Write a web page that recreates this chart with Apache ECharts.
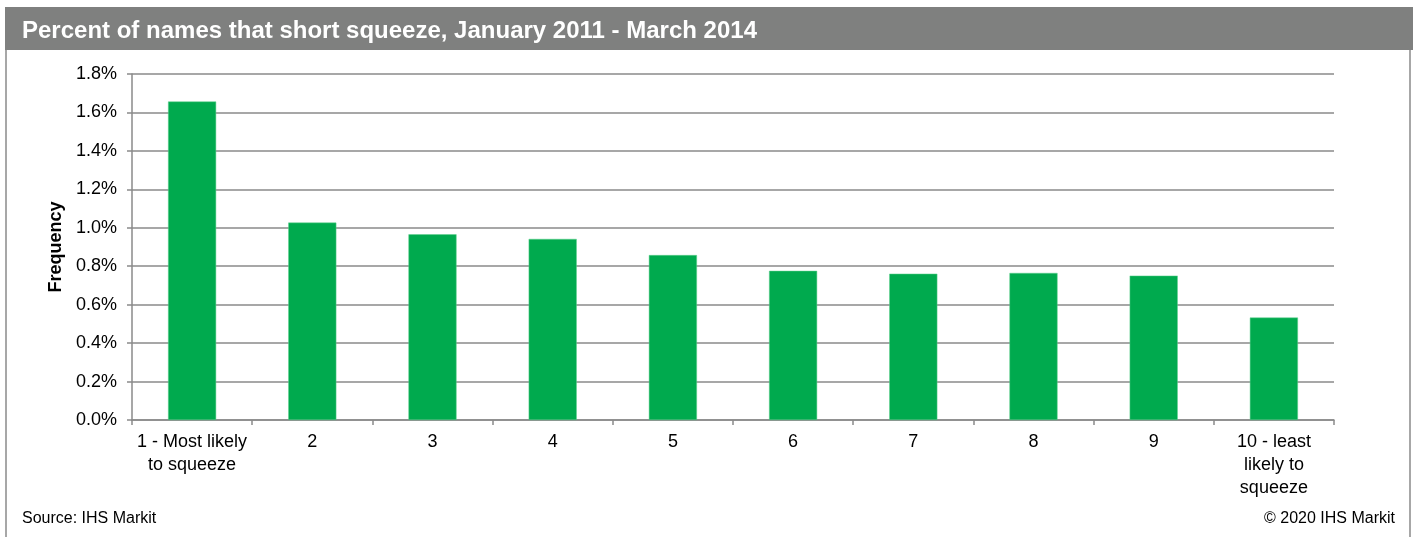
<!DOCTYPE html>
<html>
<head>
<meta charset="utf-8">
<script src="https://cdn.jsdelivr.net/npm/echarts@6/dist/echarts.min.js"></script>
<style>
  html, body { margin: 0; padding: 0; background: #fff; }
  #main { width: 1414px; height: 537px; }
</style>
</head>
<body>
<div id="main"></div>
<script>
// deciles of squeeze likelihood
var categories = ['1 - Most likely\nto squeeze', '2', '3', '4', '5', '6', '7', '8', '9', '10 - least\nlikely to\nsqueeze'];
// frequency, in percent
var frequency = [1.657, 1.027, 0.966, 0.942, 0.858, 0.776, 0.761, 0.765, 0.751, 0.533];
var titleText = 'Percent of names that short squeeze, January 2011 - March 2014';

var chart = echarts.init(document.getElementById('main'));
var font = "'Liberation Sans', Arial, sans-serif";
var lineGrey = '#8a8a8a';

var option = {
    animation: false,
    textStyle: { fontFamily: font },
    title: {
        text: titleText,
        left: 22,
        top: 19,
        padding: 0,
        textStyle: { color: '#fff', fontSize: 24, fontWeight: 'bold', fontFamily: font }
    },
    graphic: [
        // header bar
        { type: 'rect', z: -1, shape: { x: 5, y: 7, width: 1408, height: 43 }, style: { fill: '#7f807f' } },
        // frame sides
        { type: 'line', shape: { x1: 6, y1: 50, x2: 6, y2: 537 }, style: { stroke: lineGrey, lineWidth: 1.5 } },
        { type: 'line', shape: { x1: 1410, y1: 50, x2: 1410, y2: 537 }, style: { stroke: lineGrey, lineWidth: 1.5 } },
        { type: 'text', left: 22, top: 511, style: { text: 'Source: IHS Markit', fill: '#000', fontSize: 16, fontFamily: font } },
        { type: 'text', right: 19, top: 511, style: { text: '\u00a9 2020 IHS Markit', fill: '#000', fontSize: 16, fontFamily: font } }
    ],
    grid: { left: 132, right: 80, top: 74, bottom: 117 },
    xAxis: {
        type: 'category',
        data: categories,
        axisLine: { lineStyle: { color: lineGrey, width: 1.5 } },
        axisTick: { show: true, alignWithLabel: false, length: 5, lineStyle: { color: lineGrey, width: 1.5 } },
        axisLabel: { interval: 0, color: '#000', fontSize: 18, lineHeight: 23, margin: 11 }
    },
    yAxis: {
        type: 'value',
        min: 0,
        max: 1.8,
        interval: 0.2,
        name: 'Frequency',
        nameLocation: 'middle',
        nameGap: 66,
        nameRotate: 90,
        nameTextStyle: { color: '#000', fontSize: 18, fontWeight: 'bold' },
        axisLine: { show: true, lineStyle: { color: lineGrey, width: 1.5 } },
        axisTick: { show: true, length: 5, lineStyle: { color: lineGrey, width: 1.5 } },
        axisLabel: {
            color: '#000', fontSize: 18, margin: 15,
            formatter: function (v) { return v.toFixed(1) + '%'; }
        },
        splitLine: { lineStyle: { color: lineGrey, width: 1.5 } }
    },
    series: [{
        type: 'bar',
        data: frequency,
        barWidth: '40%',
        itemStyle: { color: '#00aa4e', borderColor: '#5fd08f', borderWidth: 0.5 }
    }]
};
chart.setOption(option);
</script>
</body>
</html>
